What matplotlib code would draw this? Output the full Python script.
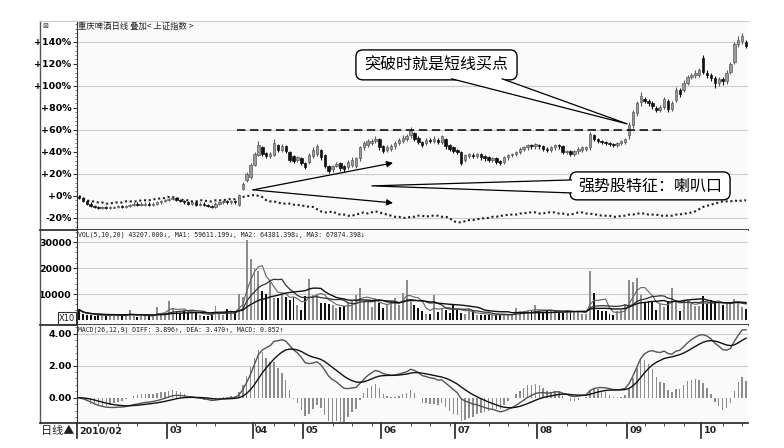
import matplotlib
matplotlib.use('Agg')
import matplotlib.pyplot as plt
import numpy as np
import pandas as pd
from matplotlib.patches import FancyBboxPatch, Polygon
from matplotlib.lines import Line2D
from matplotlib.ticker import MultipleLocator

plt.rcParams['font.family'] = ['DejaVu Sans', 'Noto Sans CJK SC']
CJK = ['Noto Sans CJK SC', 'DejaVu Sans']
MONO = ['DejaVu Sans Mono', 'Noto Sans CJK SC']

# 重庆啤酒 daily candles, percent vs first day
open_pct = [
    -1, -2, -5, -7, -9, -10, -11, -10, -11, -11,
    -10, -9, -10, -9, -8, -7, -8, -8, -7, -8,
    -7, -6, -5, -4, -3, -2, -4, -5, -6, -7,
    -6, -8, -7, -8, -9, -10, -7, -6, -5, -6,
    -5, -8, 6, 14, 17, 28, 37, 44, 39, 36,
    37, 46, 42, 45, 40, 36, 33, 34, 30, 31,
    36, 38, 42, 37, 27, 24, 27, 30, 27, 26,
    28, 27, 34, 44, 46, 48, 50, 52, 45, 42,
    43, 45, 48, 50, 52, 55, 57, 53, 49, 48,
    51, 50, 51, 49, 52, 46, 44, 42, 40, 33,
    36, 37, 36, 38, 36, 35, 33, 34, 32, 31,
    35, 37, 38, 40, 43, 44, 46, 45, 46, 45,
    43, 42, 44, 46, 45, 40, 41, 38, 41, 42,
    43, 44, 55, 52, 50, 49, 48, 47, 46, 48,
    49, 55, 64, 75, 85, 88, 86, 84, 80, 78,
    81, 86, 79, 87, 96, 96, 103, 108, 110, 110,
    125, 112, 110, 107, 103, 106, 104, 113, 122, 138,
    141, 140]
high_pct = [
    0, -1, -4, -6, -8, -9, -9, -9, -9, -9,
    -8, -8, -8, -7, -6, -6, -6, -6, -6, -6,
    -5, -4, -3, -2, -1, -1, -3, -4, -5, -5,
    -5, -6, -6, -7, -8, -6, -5, -4, -4, -4,
    -4, 2, 13, 22, 30, 40, 50, 45, 40, 40,
    52, 47, 47, 46, 41, 37, 36, 35, 31, 39,
    44, 47, 43, 38, 28, 28, 31, 31, 28, 33,
    35, 35, 45, 50, 52, 52, 54, 53, 46, 46,
    47, 50, 53, 55, 56, 63, 58, 54, 50, 53,
    53, 54, 53, 55, 53, 47, 45, 43, 41, 38,
    39, 39, 39, 39, 37, 36, 35, 35, 33, 36,
    38, 39, 41, 44, 45, 47, 47, 48, 47, 46,
    44, 45, 47, 47, 46, 42, 42, 42, 44, 45,
    45, 58, 56, 53, 51, 50, 49, 48, 49, 51,
    53, 67, 78, 86, 94, 90, 88, 86, 82, 83,
    90, 88, 86, 99, 98, 105, 110, 112, 114, 116,
    128, 114, 112, 109, 108, 108, 114, 122, 140, 145,
    148, 142]
low_pct = [
    -3, -6, -8, -10, -11, -12, -12, -12, -12, -11,
    -11, -11, -11, -10, -9, -9, -9, -9, -9, -9,
    -8, -7, -6, -5, -4, -5, -6, -7, -8, -8,
    -9, -9, -9, -10, -11, -11, -8, -7, -7, -7,
    -7, -9, 5, 13, 15, 27, 36, 36, 34, 34,
    36, 40, 40, 39, 31, 30, 31, 28, 24, 29,
    34, 36, 33, 25, 21, 22, 26, 23, 22, 24,
    26, 25, 32, 42, 44, 46, 48, 42, 39, 40,
    41, 43, 46, 48, 50, 53, 50, 47, 44, 46,
    48, 48, 47, 47, 43, 41, 39, 38, 28, 31,
    34, 34, 34, 33, 32, 31, 31, 29, 28, 29,
    33, 35, 36, 38, 41, 42, 43, 43, 43, 41,
    40, 40, 42, 43, 38, 38, 36, 36, 38, 40,
    41, 42, 50, 48, 47, 46, 45, 44, 44, 46,
    47, 52, 62, 73, 82, 84, 82, 79, 76, 76,
    79, 76, 77, 85, 90, 94, 101, 106, 107, 108,
    111, 107, 104, 98, 100, 101, 102, 111, 120, 135,
    138, 134]
close_pct = [
    -2, -5, -7, -9, -10, -11, -10, -11, -10, -10,
    -9, -10, -9, -8, -7, -8, -7, -7, -8, -7,
    -6, -5, -4, -3, -2, -4, -5, -6, -7, -6,
    -8, -7, -8, -9, -10, -7, -6, -5, -6, -5,
    -6, 1, 11, 20, 28, 38, 46, 38, 36, 38,
    48, 42, 45, 41, 33, 32, 35, 30, 26, 37,
    42, 45, 35, 27, 23, 27, 29, 25, 24, 31,
    33, 34, 44, 48, 50, 50, 52, 44, 41, 44,
    45, 48, 51, 53, 54, 60, 52, 49, 46, 51,
    50, 52, 49, 54, 45, 43, 41, 40, 30, 37,
    38, 36, 38, 35, 34, 33, 34, 31, 30, 35,
    37, 38, 40, 43, 44, 46, 45, 47, 45, 43,
    42, 44, 46, 45, 40, 41, 38, 41, 43, 44,
    44, 56, 52, 50, 49, 48, 47, 46, 48, 50,
    52, 64, 76, 84, 91, 86, 84, 82, 78, 81,
    88, 79, 84, 96, 93, 103, 108, 110, 112, 114,
    113, 110, 107, 103, 106, 104, 112, 120, 138, 142,
    145, 136]
# 上证指数 overlay, percent
index_pct = [
    0, -2, -4, -5, -5, -6, -6, -7, -7, -6,
    -6, -6, -5, -5, -5, -5, -4, -4, -4, -3,
    -3, -2, -2, -1, -1, -2, -3, -4, -4, -5,
    -5, -4, -4, -5, -5, -4, -4, -4, -3, -3,
    -3, -2, -1, 0, 0, 1, 0, -1, -4, -5,
    -5, -6, -7, -7, -7, -8, -8, -9, -9, -10,
    -10, -12, -14, -15, -15, -14, -16, -17, -17, -18,
    -18, -17, -16, -15, -16, -15, -14, -15, -16, -17,
    -18, -19, -19, -20, -20, -19, -19, -18, -18, -19,
    -18, -18, -18, -19, -19, -20, -23, -24, -24, -23,
    -22, -22, -21, -21, -20, -20, -19, -19, -18, -18,
    -17, -17, -17, -16, -16, -15, -15, -15, -16, -16,
    -15, -15, -15, -16, -16, -17, -17, -16, -15, -15,
    -16, -16, -17, -17, -18, -18, -18, -19, -19, -18,
    -18, -17, -17, -16, -16, -16, -17, -17, -17, -18,
    -18, -18, -18, -17, -17, -16, -16, -15, -14, -12,
    -10, -9, -8, -7, -6, -5, -5, -5, -4, -5,
    -4, -4]
volume = [
    4000, 2300, 1800, 2000, 1500, 1800, 1600, 1800, 2000, 1900,
    1700, 2000, 1800, 3700, 1500, 1300, 1600, 1500, 1800, 1600,
    5000, 2700, 2700, 7200, 4600, 3300, 2700, 3600, 2700, 3300,
    2700, 1800, 1500, 1500, 2300, 5200, 2300, 1800, 4300, 3300,
    3100, 10000, 8700, 30800, 23600, 20200, 18700, 11300, 10100, 15100,
    8400, 8600, 10000, 8800, 7800, 9000, 5600, 4000, 9100, 15700,
    9700, 10100, 6500, 6500, 6200, 5900, 4600, 4900, 5200, 6500,
    7200, 9500, 12500, 7400, 7400, 4900, 8200, 6500, 4600, 5600,
    7200, 8400, 5600, 10400, 15500, 6900, 5600, 4600, 3600, 2300,
    2300, 9700, 3100, 4400, 4000, 2700, 6100, 4000, 2700, 2300,
    3300, 3600, 1800, 1800, 1800, 2300, 2000, 1800, 1800, 2000,
    2300, 2300, 4600, 3300, 3600, 3600, 3600, 5600, 3300, 3100,
    3300, 3600, 3100, 2700, 2700, 4000, 3300, 3300, 3100, 2300,
    2500, 19000, 10400, 3700, 3600, 3600, 2300, 2000, 3300, 4000,
    6100, 15500, 14800, 16100, 9700, 6500, 7400, 7200, 4000, 6100,
    4900, 7200, 12300, 7200, 3600, 7800, 7400, 6100, 5200, 5200,
    9100, 6100, 7800, 7200, 6500, 5900, 6100, 6100, 8200, 6800,
    5100, 4300]
base_price = 27.0
month_pos = [-0.5, 22.5, 44.5, 57.5, 77.5, 96.5, 117.5, 140.5, 159.5]
month_labels = ['2010/02', '03', '04', '05', '06', '07', '08', '09', '10']

n = len(close_pct)
x = np.arange(n)
o = np.array(open_pct, float)
c = np.array(close_pct, float)
up = c >= o

UP_FC, UP_EC, DN = '#9a9a9a', '#5a5a5a', '#111111'
BG = '#fafafa'
GRID = '#cccccc'
FRAME = '#333333'

W, H = 784, 448
fig = plt.figure(figsize=(W / 100, H / 100), dpi=100)
fig.patch.set_facecolor('white')


def fbox(x0, y0, x1, y1):
    return [x0 / W, 1 - y1 / H, (x1 - x0) / W, (y1 - y0) / H]


ax1 = fig.add_axes(fbox(77, 21, 748, 230))
ax2 = fig.add_axes(fbox(77, 230, 748, 325), sharex=ax1)
ax3 = fig.add_axes(fbox(77, 325, 748, 423), sharex=ax1)

for ax in (ax1, ax2, ax3):
    ax.set_facecolor(BG)
    ax.spines['right'].set_visible(False)
    ax.spines['left'].set_color(FRAME)
    ax.spines['bottom'].set_color(FRAME)
    ax.spines['bottom'].set_linewidth(1.3)
    ax.spines['top'].set_visible(False)
    ax.tick_params(axis='y', direction='out', length=3, width=0.8, color=FRAME,
                   pad=1, labelsize=6.8)
    ax.tick_params(axis='y', which='minor', length=1.5, width=0.6, color='#666')
    ax.tick_params(axis='x', which='both', bottom=False, labelbottom=False)
ax1.spines['top'].set_visible(True)
ax1.spines['top'].set_color(GRID)
ax1.set_xlim(-0.5, n - 0.5)

# ---- price panel
ax1.set_ylim(-31, 159)
for g in [-20, 20, 60, 100, 140]:
    ax1.axhline(g, color=GRID, lw=0.8, zorder=0)
ax1.set_yticks(range(-20, 141, 20))
ax1.set_yticklabels([('+%d%%' % v) if v >= 0 else ('%d%%' % v) for v in range(-20, 141, 20)],
                    fontweight='bold')
ax1.yaxis.set_minor_locator(MultipleLocator(4))

cols = np.where(up, UP_EC, DN)
ax1.vlines(x, low_pct, high_pct, colors=cols, lw=0.8, zorder=3)
body = np.abs(c - o)
body = np.where(body < 0.8, 0.8, body)
ax1.bar(x, body, bottom=np.minimum(o, c), width=0.62,
        color=np.where(up, UP_FC, DN), edgecolor=cols, linewidth=0.5, zorder=4)
ax1.plot(x, index_pct, color='#222', lw=1.5, ls=(0, (1.0, 1.3)), zorder=3)

ax1.hlines(60, 40.5, 150, colors='black', lw=1.1, linestyles=(0, (5.5, 3)), zorder=5)
ax1.text(0.002, 0.972, '重庆啤酒日线 叠加< 上证指数 >', transform=ax1.transAxes,
         fontsize=6, family=CJK, va='center', ha='left', color='#222')

# horn arrows
for tip in [(80.5, 30), (80.5, -6.4)]:
    ax1.annotate('', xy=tip, xytext=(44.6, 5.5),
                 arrowprops=dict(arrowstyle='-|>', color='black', lw=0.9,
                                 mutation_scale=9, shrinkA=0, shrinkB=0), zorder=6)

# ---- volume panel
ax2.set_ylim(-1925, 34650)
for g in [10000, 20000, 30000]:
    ax2.axhline(g, color=GRID, lw=0.8, zorder=0)
ax2.set_yticks([10000, 20000, 30000])
ax2.set_yticklabels(['10000', '20000', '30000'], fontweight='bold')
ax2.yaxis.set_minor_locator(MultipleLocator(2000))
ax2.bar(x, volume, width=0.5, color=np.where(up, '#8c8c8c', DN), linewidth=0, zorder=3)
vs = pd.Series(volume, dtype=float)
for win, col, lw in [(5, '#666666', 0.8), (10, '#333333', 0.9), (20, '#111111', 1.0)]:
    ax2.plot(x, vs.rolling(win, min_periods=1).mean(), color=col, lw=lw, zorder=4)
ax2.text(0.002, 0.947, 'VOL(5,10,20) 43207.000↓, MA1: 59611.199↓, MA2: 64381.398↓, MA3: 67874.398↓',
         transform=ax2.transAxes, fontsize=4.7, family=MONO, va='center', ha='left', color='#222')

# ---- MACD panel
price = pd.Series(base_price * (1 + c / 100))
diff = price.ewm(span=12, adjust=False).mean() - price.ewm(span=26, adjust=False).mean()
dea = diff.ewm(span=9, adjust=False).mean()
hist = 2 * (diff - dea)
ax3.set_ylim(-1.58, 4.54)
for g in [2, 4]:
    ax3.axhline(g, color=GRID, lw=0.8, zorder=0)
ax3.set_yticks([0, 2, 4])
ax3.set_yticklabels(['0.00', '2.00', '4.00'], fontweight='bold')
ax3.yaxis.set_minor_locator(MultipleLocator(0.4))
ax3.bar(x, hist, width=0.38, color='#8c8c8c', linewidth=0, zorder=3)
ax3.plot(x, diff, color='#555555', lw=1.0, zorder=4)
ax3.plot(x, dea, color='#111111', lw=1.0, zorder=4)
ax3.text(0.002, 0.95, 'MACD(26,12,9) DIFF: 3.896↑, DEA: 3.470↑, MACD: 0.852↑',
         transform=ax3.transAxes, fontsize=4.7, family=MONO, va='center', ha='left', color='#222')

# date axis
ax3.xaxis.set_minor_locator(MultipleLocator(5))
ax3.tick_params(axis='x', which='minor', bottom=True, direction='out', length=2.5,
                width=0.7, color='#444')
xt = ax3.get_xaxis_transform()
for pos, lab in zip(month_pos, month_labels):
    ax3.plot([pos, pos], [0, -0.15], transform=xt, clip_on=False, color='#222', lw=1.2)
    ax3.text(pos + 0.6, -0.08, lab, transform=xt, ha='left', va='center',
             fontsize=6.8, fontweight='bold', color='#222')

# ---- frame on the left side
def fl(x0, y0, x1, y1, **kw):
    fig.add_artist(Line2D([x0 / W, x1 / W], [1 - y0 / H, 1 - y1 / H], **kw))


fl(40, 21, 40, 423, color='#555', lw=1.0)
fl(40, 21, 77, 21, color=GRID, lw=0.8)
fl(40, 230, 77, 230, color=FRAME, lw=1.3)
fl(40, 325, 77, 325, color=FRAME, lw=1.3)
fl(40, 423, 77, 423, color=FRAME, lw=1.3)
fig.text(42 / W, 1 - 26 / H, '⊠', fontsize=5, va='center', ha='left', color='#333')
fig.text(67 / W, 1 - 318 / H, 'X10', fontsize=6, ha='center', va='center', color='#222',
         bbox=dict(boxstyle='square,pad=0.15', fc='white', ec='#333', lw=0.8))
fig.text(41 / W, 1 - 431 / H, '日线▲', fontsize=8, family=CJK, ha='left', va='center',
         color='#222')

# ---- callouts drawn in pixel space on an overlay
ov = fig.add_axes([0, 0, 1, 1])
ov.set_xlim(0, W)
ov.set_ylim(0, H)
ov.axis('off')


def px(xv, yv):
    return tuple(ax1.transData.transform((xv, yv)))


def callout(text, corner0, corner1, base_a, base_b, tip):
    x0, y0 = px(*corner0)
    x1, y1 = px(*corner1)
    ov.add_patch(FancyBboxPatch((x0, y0), x1 - x0, y1 - y0,
                                boxstyle='round,pad=0,rounding_size=7',
                                fc='white', ec='black', lw=1.0, zorder=5))
    pa, pb, pt = px(*base_a), px(*base_b), px(*tip)
    ov.add_patch(Polygon([pa, pt, pb], closed=True, fc='white', ec='none', zorder=6))
    ov.plot([pa[0], pt[0], pb[0]], [pa[1], pt[1], pb[1]], color='black', lw=0.9, zorder=7)
    ov.text((x0 + x1) / 2, (y0 + y1) / 2, text, family=CJK, fontsize=11.5,
            ha='center', va='center', zorder=8)


callout('突破时就是短线买点', (71, 105.5), (112.3, 132.7),
        (95.6, 106.4), (108.5, 106.4), (140.5, 65.5))
callout('强势股特征：喇叭口', (125.9, -3.6), (166.9, 21.8),
        (126.2, 14.5), (126.2, 2.7), (75.1, 9.1))

fig.savefig('out.png', dpi=100)
